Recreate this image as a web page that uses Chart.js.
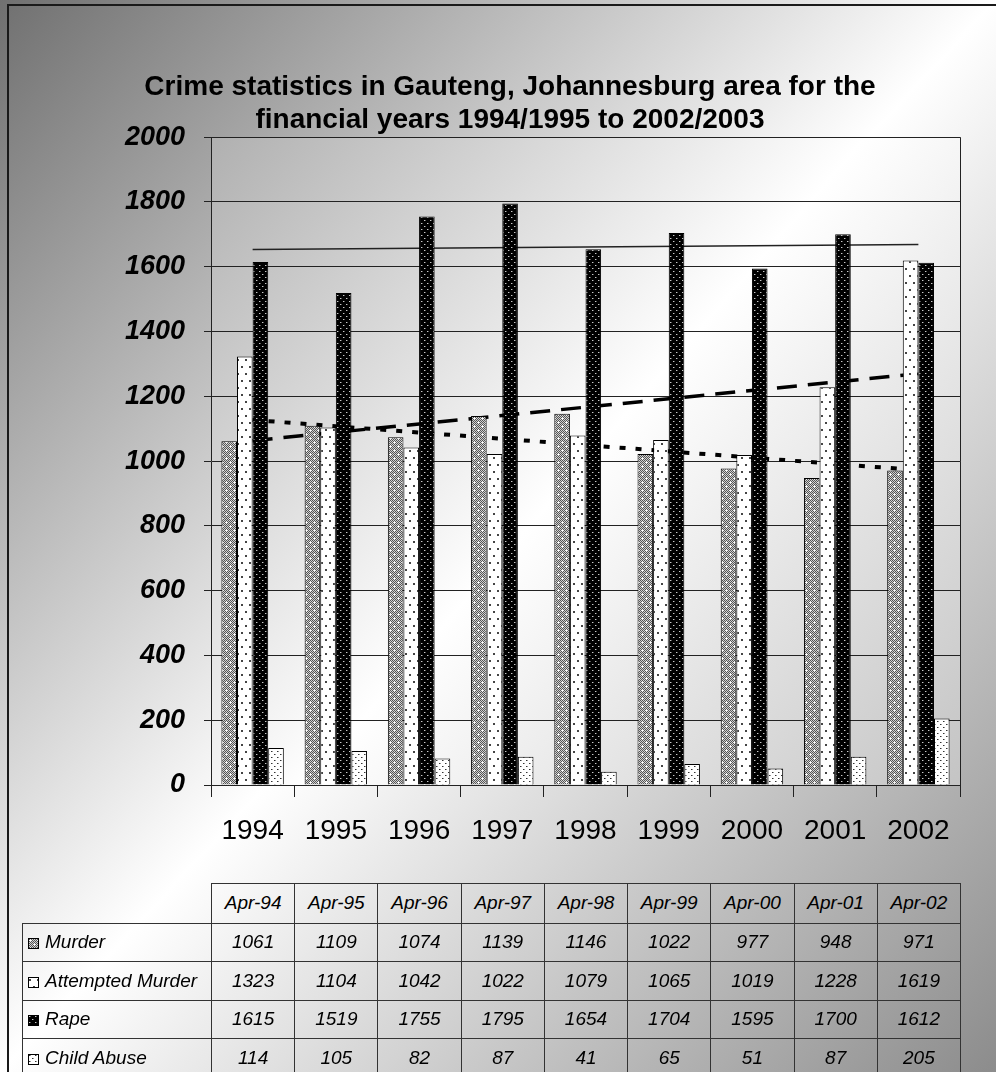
<!DOCTYPE html>
<html>
<head>
<meta charset="utf-8">
<script src="https://cdn.jsdelivr.net/npm/chart.js@4.4.0/dist/chart.umd.min.js"></script>
<style>
  html, body { margin: 0; padding: 0; }
  body {
    width: 996px; height: 1072px; overflow: hidden; position: relative;
    background: linear-gradient(to bottom right, #707070 0%, #ffffff 50%, #8c8c8c 100%);
    font-family: Arial, "Liberation Sans", sans-serif;
  }
  #frame {
    position: absolute; left: 7px; top: 4px; width: 1000px; height: 1100px;
    border-top: 2px solid #1a1a1a; border-left: 2px solid #1a1a1a;
  }
  #wrap { position: absolute; left: 0; top: 0; width: 996px; height: 875px; }
  #dataTable {
    position: absolute; top: 883px; border-collapse: collapse; table-layout: fixed;
    font-style: italic; font-size: 19px; color: #000;
  }
  #dataTable td { border: 1px solid #333; text-align: center; padding: 0; height: 37.5px; white-space: nowrap; }
  #dataTable td.lbl { text-align: left; padding-left: 5px; }
  #dataTable td.blank { border: none; }
  #dataTable canvas { vertical-align: -1px; margin-right: 6px; }
</style>
</head>
<body>
<div id="frame"></div>
<div id="wrap"><canvas id="crimeChart" width="996" height="875"></canvas></div>
<table id="dataTable"></table>
<script>
const years = ['1994', '1995', '1996', '1997', '1998', '1999', '2000', '2001', '2002'];
const periods = ['Apr-94', 'Apr-95', 'Apr-96', 'Apr-97', 'Apr-98', 'Apr-99', 'Apr-00', 'Apr-01', 'Apr-02'];
const murder = [1061, 1109, 1074, 1139, 1146, 1022, 977, 948, 971];
const attemptedMurder = [1323, 1104, 1042, 1022, 1079, 1065, 1019, 1228, 1619];
const rape = [1615, 1519, 1755, 1795, 1654, 1704, 1595, 1700, 1612];
const childAbuse = [114, 105, 82, 87, 41, 65, 51, 87, 205];
// trend lines, end points
const murderTrend = [1127, null, null, null, null, null, null, null, 972];
const attemptedTrend = [1063, null, null, null, null, null, null, null, 1270];
const rapeTrend = [1653, null, null, null, null, null, null, null, 1669];

const FONT = 'Arial, "Liberation Sans", sans-serif';

// fill patterns like the old excel ones
function makeTile(w, h, draw) {
    const c = document.createElement('canvas');
    c.width = w; c.height = h;
    draw(c.getContext('2d'));
    return c;
}
function px(ctx, color, x, y, w, h) {
    ctx.fillStyle = color;
    ctx.fillRect(x, y, w || 1, h || 1);
}
const murderTile = makeTile(8, 8, ctx => {
    for (let y = 0; y < 8; y++)
        for (let x = 0; x < 8; x++)
            px(ctx, (x + y) % 2 ? '#d0d0d0' : '#555555', x, y);
    [[2, 2], [6, 6]].forEach(([x, y]) => {
        px(ctx, '#ffffff', x, y);
        px(ctx, '#f0f0f0', x - 1, y); px(ctx, '#f0f0f0', x + 1, y);
        px(ctx, '#f0f0f0', x, y - 1); px(ctx, '#f0f0f0', x, y + 1);
    });
});
const attemptedTile = makeTile(8, 14, ctx => {
    px(ctx, '#ffffff', 0, 0, 8, 14);
    px(ctx, '#444444', 1, 2, 2, 2);
    px(ctx, '#444444', 5, 9, 2, 2);
});
const rapeTile = makeTile(6, 6, ctx => {
    px(ctx, '#000000', 0, 0, 6, 6);
    px(ctx, '#c8c8c8', 1, 1); px(ctx, '#c8c8c8', 4, 4);
    px(ctx, '#555555', 2, 1); px(ctx, '#555555', 5, 4);
});
const childTile = makeTile(6, 6, ctx => {
    px(ctx, '#ffffff', 0, 0, 6, 6);
    px(ctx, '#333333', 1, 1); px(ctx, '#333333', 4, 4);
    px(ctx, '#999999', 2, 1); px(ctx, '#999999', 5, 4);
});

const canvas = document.getElementById('crimeChart');
const ctx = canvas.getContext('2d');
const pat = tile => ctx.createPattern(tile, 'repeat');

const plotBg = {
    id: 'plotBg',
    beforeDraw(chart) {
        const a = chart.chartArea;
        const c = chart.ctx;
        const g = c.createLinearGradient(a.left, a.top, a.right, a.bottom);
        g.addColorStop(0, '#b0b0b0');
        g.addColorStop(0.5, '#ffffff');
        g.addColorStop(1, '#c4c4c4');
        c.save();
        c.fillStyle = g;
        c.fillRect(a.left, a.top, a.right - a.left, a.bottom - a.top);
        c.restore();
    },
    beforeDatasetsDraw(chart) {
        const a = chart.chartArea;
        const c = chart.ctx;
        c.save();
        c.strokeStyle = '#222';
        c.lineWidth = 1;
        c.beginPath();
        c.moveTo(Math.round(a.right) + 0.5, a.top);
        c.lineTo(Math.round(a.right) + 0.5, a.bottom);
        c.stroke();
        c.restore();
    }
};

function barSet(label, data, tile) {
    return {
        type: 'bar', label: label, data: data,
        backgroundColor: pat(tile), borderColor: '#000', borderWidth: 1,
        categoryPercentage: 0.75, barPercentage: 1.0, order: 0
    };
}
function trendSet(label, data, width, dash, color) {
    return {
        type: 'line', label: label, data: data, spanGaps: true,
        borderColor: color, borderWidth: width, borderDash: dash,
        pointRadius: 0, fill: false, order: 1
    };
}

const crimeChart = new Chart(canvas, {
    type: 'bar',
    data: {
        labels: years,
        datasets: [
            barSet('Murder', murder, murderTile),
            barSet('Attempted Murder', attemptedMurder, attemptedTile),
            barSet('Rape', rape, rapeTile),
            barSet('Child Abuse', childAbuse, childTile),
            trendSet('Murder trend', murderTrend, 4, [6, 10], '#000'),
            trendSet('Attempted Murder trend', attemptedTrend, 3.5, [20, 11], '#000'),
            trendSet('Rape trend', rapeTrend, 1.5, [], '#222')
        ]
    },
    options: {
        responsive: false,
        animation: false,
        layout: { padding: { top: 70, right: 36, bottom: 20, left: 60 } },
        plugins: {
            legend: { display: false },
            tooltip: { enabled: false },
            title: {
                display: true,
                text: ['Crime statistics in Gauteng, Johannesburg area for the',
                       'financial years 1994/1995 to 2002/2003'],
                color: '#000',
                font: { family: FONT, size: 28, weight: 'bold', lineHeight: 1.2 },
                padding: { top: 0, bottom: 0 }
            }
        },
        scales: {
            x: {
                grid: { display: true, drawOnChartArea: false, offset: true, tickLength: 12, color: '#222', tickColor: '#222' },
                border: { display: true, color: '#222', width: 1 },
                ticks: { color: '#000', padding: 17, font: { family: FONT, size: 28 } },
                afterFit: s => { s.height = 70; }
            },
            y: {
                min: 0, max: 2000,
                grid: { color: '#222', tickColor: '#222', tickLength: 7, lineWidth: 1 },
                border: { display: true, color: '#222', width: 1 },
                ticks: { stepSize: 200, color: '#000', padding: 19,
                         callback: v => String(v),
                         font: { family: FONT, size: 27, weight: 'bold', style: 'italic' } },
                afterFit: s => { s.width = 151; }
            }
        }
    },
    plugins: [plotBg]
});

// data table under the chart, columns lined up with the category axis
(function buildTable() {
    const area = crimeChart.chartArea;
    const colW = (area.right - area.left) / years.length;
    const lblW = 189;
    const table = document.getElementById('dataTable');
    table.style.left = (area.left - lblW) + 'px';
    table.style.width = (lblW + colW * years.length) + 'px';

    const cg = document.createElement('colgroup');
    const c0 = document.createElement('col'); c0.style.width = lblW + 'px'; cg.appendChild(c0);
    periods.forEach(() => { const c = document.createElement('col'); c.style.width = colW + 'px'; cg.appendChild(c); });
    table.appendChild(cg);

    const head = document.createElement('tr');
    const blank = document.createElement('td'); blank.className = 'blank'; head.appendChild(blank);
    periods.forEach(p => { const td = document.createElement('td'); td.textContent = p; head.appendChild(td); });
    head.firstChild.style.height = '39px';
    table.appendChild(head);

    const rows = [
        ['Murder', murder, murderTile],
        ['Attempted Murder', attemptedMurder, attemptedTile],
        ['Rape', rape, rapeTile],
        ['Child Abuse', childAbuse, childTile]
    ];
    rows.forEach(([name, vals, tile]) => {
        const tr = document.createElement('tr');
        const lbl = document.createElement('td'); lbl.className = 'lbl';
        const sw = document.createElement('canvas'); sw.width = 11; sw.height = 11;
        const sc = sw.getContext('2d');
        sc.fillStyle = sc.createPattern(tile, 'repeat'); sc.fillRect(0, 0, 11, 11);
        sc.strokeStyle = '#000'; sc.lineWidth = 1; sc.strokeRect(0.5, 0.5, 10, 10);
        lbl.appendChild(sw);
        lbl.appendChild(document.createTextNode(name));
        tr.appendChild(lbl);
        vals.forEach(v => { const td = document.createElement('td'); td.textContent = v; tr.appendChild(td); });
        table.appendChild(tr);
    });
})();
</script>
</body>
</html>
